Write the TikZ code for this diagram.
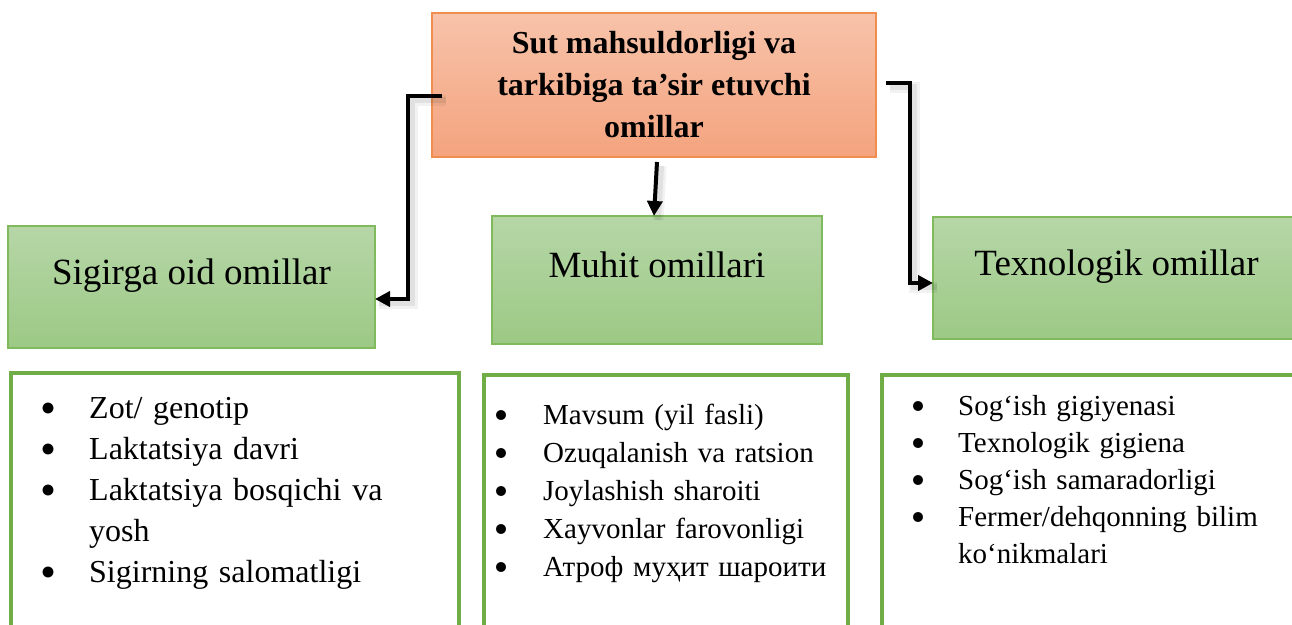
\documentclass[tikz,border=0pt]{standalone}
\usepackage{fontspec}
\setmainfont{Liberation Serif}
\usetikzlibrary{arrows.meta,calc}
\definecolor{orT}{HTML}{F7C3AA}
\definecolor{orB}{HTML}{F4A37E}
\definecolor{orD}{HTML}{F08E50}
\definecolor{grT}{HTML}{B6D6A7}
\definecolor{grB}{HTML}{9CC985}
\definecolor{grD}{HTML}{80BA5C}
\definecolor{lsD}{HTML}{70AD47}
% #1 hang width, #2 bullet diameter, #3 bullet centre height above baseline
\newcommand\bl[3]{\hangindent=#1\hangafter=1\noindent\strut\makebox[#1][l]{\setlength{\unitlength}{1pt}\begin{picture}(0,0)\put(5,#3){\circle*{#2}}\end{picture}}}
\begin{document}
\begin{tikzpicture}[x=1pt,y=-1pt,
  topbox/.style={draw=orD, line width=1.2pt, top color=orT, bottom color=orB, inner sep=0pt, outer sep=0pt, anchor=north west},
  grbox/.style={draw=grD, line width=1.2pt, top color=grT, bottom color=grB, inner sep=0pt, outer sep=0pt, anchor=north west},
  lsbox/.style={draw=lsD, line width=4pt, fill=white, inner sep=0pt, outer sep=0pt, anchor=north west},
  conn/.style={line width=4pt, line join=miter, -{Triangle[length=15pt,width=15pt]},
    preaction={draw=black, draw opacity=0.05, line width=11pt, -, transform canvas={xshift=4pt,yshift=-4pt}},
    preaction={draw=black, draw opacity=0.07, line width=6pt, -, transform canvas={xshift=4pt,yshift=-4pt}}},
  lbl/.style={anchor=base, inner sep=0pt, font=\fontsize{37}{44}\selectfont},
  lst/.style={anchor=north west, inner sep=0pt, align=left}
]
\clip (0,0) rectangle (1292,624);
\useasboundingbox (0,0) rectangle (1292,624);
% top box
\node[topbox, minimum width=444pt, minimum height=144pt] (top) at (432,13) {};
\node[anchor=north, align=center, inner sep=0pt, font=\bfseries\fontsize{32}{42}\selectfont] (topT) at (654,23.6)
  {\strut Sut mahsuldorligi va\\ tarkibiga ta’sir etuvchi\\ omillar};
% green boxes
\node[grbox, minimum width=367pt, minimum height=122pt] (sig) at (8,226) {};
\node[grbox, minimum width=330pt, minimum height=128pt] (muh) at (492,216) {};
\node[grbox, minimum width=367pt, minimum height=122pt] (tex) at (933,217) {};
\node[lbl] (sigT) at (191.5,284) {Sigirga oid omillar};
\node[lbl] (muhT) at (657,277) {Muhit omillari};
\node[lbl] (texT) at (1116.5,275) {Texnologik omillar};
% list boxes
\node[lsbox, minimum width=448pt, minimum height=290pt] (l1) at (11,373) {};
\node[lsbox, minimum width=364pt, minimum height=290pt] (l2) at (484,375) {};
\node[lsbox, minimum width=430pt, minimum height=290pt] (l3) at (882,375) {};
\node[lst, text width=400pt, font=\fontsize{32}{41}\selectfont] (l1T) at (43,389.3)
  {\bl{46pt}{10.5}{10}Zot/ genotip\par
   \bl{46pt}{10.5}{10}Laktatsiya davri\par
   \bl{46pt}{10.5}{10}Laktatsiya bosqichi va\hfil\break yosh\par
   \bl{46pt}{10.5}{10}Sigirning salomatligi\par};
\node[lst, text width=340pt, font=\fontsize{29}{38}\selectfont] (l2T) at (496,397.4)
  {\bl{47pt}{9.5}{8.5}Mavsum (yil fasli)\par
   \bl{47pt}{9.5}{8.5}Ozuqalanish va ratsion\par
   \bl{47pt}{9.5}{8.5}Joylashish sharoiti\par
   \bl{47pt}{9.5}{8.5}Xayvonlar farovonligi\par
   \bl{47pt}{9.5}{8.5}Атроф муҳит шароити\par};
\node[lst, text width=370pt, font=\fontsize{29}{37}\selectfont] (l3T) at (913,389.1)
  {\bl{45pt}{9.5}{9}Sog‘ish gigiyenasi\par
   \bl{45pt}{9.5}{9}Texnologik gigiena\par
   \bl{45pt}{9.5}{9}Sog‘ish samaradorligi\par
   \bl{45pt}{9.5}{9}Fermer/dehqonning bilim\hfil\break ko‘nikmalari\par};
% connectors
\draw[conn] ([xshift=10pt,yshift=-11pt]top.west) -- ++(-34pt,0) |- ([yshift=-12pt]sig.east);
\draw[conn] ([xshift=10pt,yshift=2pt]top.east) -- ++(24pt,0) |- ([yshift=-5pt]tex.west);
\draw[conn] ([xshift=3pt,yshift=-5pt]top.south) -- ([xshift=-3pt]muh.north);
\end{tikzpicture}
\end{document}
